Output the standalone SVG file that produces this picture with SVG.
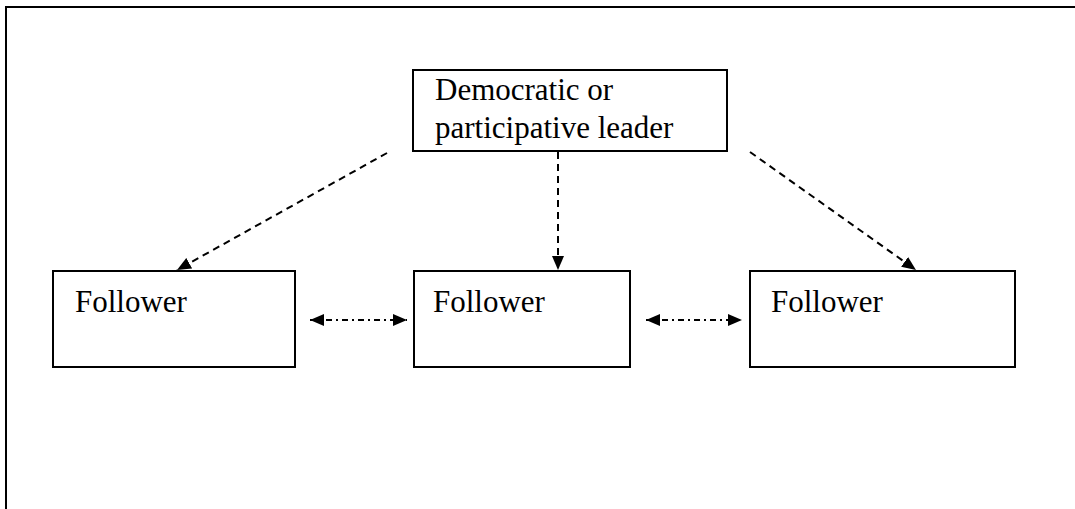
<svg xmlns="http://www.w3.org/2000/svg" width="1075" height="509" viewBox="0 0 1075 509">
<style>
.box{fill:#fff;stroke:#000;stroke-width:2}
.t{font-family:"Liberation Serif","Times New Roman",serif;font-size:31px;fill:#000}
.dash{stroke:#000;stroke-width:2;fill:none;stroke-dasharray:7 5}
.dd{stroke:#000;stroke-width:2;fill:none;stroke-dasharray:6 4 2 4}
</style>
<defs>
<marker id="ah" viewBox="0 0 14 12" refX="14" refY="6" markerWidth="14" markerHeight="12" markerUnits="userSpaceOnUse" orient="auto-start-reverse">
<path d="M0,0 L14,6 L0,12 Z" fill="#000"/>
</marker>
</defs>
<rect x="6" y="7" width="1100" height="600" fill="none" stroke="#000" stroke-width="2"/>
<g id="leader">
<rect class="box" x="413" y="70" width="314" height="81"/>
<text class="t" x="435" y="100">Democratic or</text>
<text class="t" x="435" y="138">participative leader</text>
</g>
<g id="follower1">
<rect class="box" x="53" y="271" width="242" height="96"/>
<text class="t" x="75" y="312">Follower</text>
</g>
<g id="follower2">
<rect class="box" x="414" y="271" width="216" height="96"/>
<text class="t" x="433" y="312">Follower</text>
</g>
<g id="follower3">
<rect class="box" x="750" y="271" width="265" height="96"/>
<text class="t" x="771" y="312">Follower</text>
</g>
<g id="connectors">
<line class="dash" x1="387" y1="153" x2="177" y2="270" marker-end="url(#ah)"/>
<line class="dash" x1="558" y1="152" x2="558" y2="270" marker-end="url(#ah)"/>
<line class="dash" x1="750" y1="152" x2="916" y2="270" marker-end="url(#ah)"/>
<line class="dd" x1="310" y1="320" x2="407" y2="320" marker-start="url(#ah)" marker-end="url(#ah)"/>
<line class="dd" x1="646" y1="320" x2="742" y2="320" marker-start="url(#ah)" marker-end="url(#ah)"/>
</g>
</svg>
